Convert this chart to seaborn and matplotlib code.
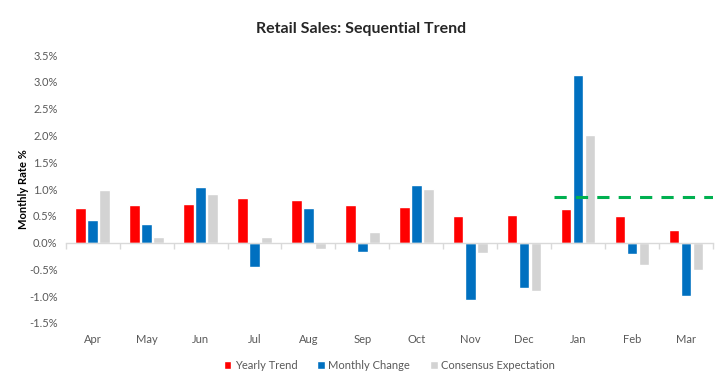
import pandas as pd
import seaborn as sns
import matplotlib.pyplot as plt
from matplotlib.ticker import FuncFormatter, FixedLocator

sns.set_theme(style="white")
plt.rcParams['font.family'] = ['Lato', 'DejaVu Sans']

months = ['Apr', 'May', 'Jun', 'Jul', 'Aug', 'Sep', 'Oct', 'Nov', 'Dec', 'Jan', 'Feb', 'Mar']
yearly_trend = [0.64, 0.71, 0.73, 0.83, 0.80, 0.70, 0.66, 0.49, 0.51, 0.62, 0.49, 0.23]
monthly_change = [0.42, 0.34, 1.03, -0.45, 0.65, -0.17, 1.07, -1.07, -0.84, 3.13, -0.22, -1.00]
consensus = [0.99, 0.10, 0.90, 0.10, -0.11, 0.20, 1.00, -0.20, -0.91, 2.00, -0.41, -0.52]
expectation_level = 0.85
expectation_from = 'Jan'

series = {'Yearly Trend': yearly_trend,
          'Monthly Change': monthly_change,
          'Consensus Expectation': consensus}
df = pd.concat([pd.DataFrame({'month': months, 'value': v, 'series': k})
                for k, v in series.items()])
palette = {'Yearly Trend': '#ff0000', 'Monthly Change': '#0070c0',
           'Consensus Expectation': '#d3d3d3'}

fig = plt.figure(figsize=(7.23, 3.91), dpi=100)
ax = fig.add_axes([0.091, 0.174, 0.895, 0.685])
sns.barplot(data=df, x='month', y='value', hue='series', palette=palette,
            width=0.67, gap=0.12, saturation=1, ax=ax, legend=True)

ax.set_xlim(-0.5, len(months) - 0.5)
ax.set_ylim(-1.5, 3.5)
ax.set_yticks([-1.5 + 0.5 * i for i in range(11)])
ax.yaxis.set_major_formatter(FuncFormatter(lambda v, p: f'{v:.1f}%'))
ax.tick_params(axis='y', length=0, labelsize=8, labelcolor='#595959', pad=6)
ax.tick_params(axis='x', length=0, labelsize=8, labelcolor='#595959', pad=8)
ax.set_xlabel('')
ax.set_ylabel('Monthly Rate %', fontsize=8, fontweight='bold', color='black', labelpad=0)

for s in ['left', 'right', 'bottom']:
    ax.spines[s].set_visible(False)
# zero line with category boundary ticks
ax.spines['top'].set_position(('data', 0))
ax.spines['top'].set_color('#d9d9d9')
ax.spines['top'].set_linewidth(1)
ax.xaxis.set_minor_locator(FixedLocator([i - 0.5 for i in range(len(months) + 1)]))
ax.tick_params(axis='x', which='minor', top=True, bottom=False, direction='in',
               length=4, color='#d9d9d9', width=1)

start = months.index(expectation_from) - 0.45
ax.hlines(expectation_level, start, len(months) - 0.5, colors='#00b050',
          linestyles=(0, (4, 3)), linewidth=2.2, zorder=5)

handles, labels = ax.get_legend_handles_labels()
ax.legend(handles, labels, loc='upper center', bbox_to_anchor=(0.5, -0.1), ncol=3,
          frameon=False, fontsize=8, handlelength=0.7, handleheight=0.7,
          handletextpad=0.3, columnspacing=1.8, labelcolor='#595959')

fig.suptitle('Retail Sales: Sequential Trend', fontsize=11.5, fontweight='bold', y=0.945)
fig.savefig('out.png', dpi=100)
